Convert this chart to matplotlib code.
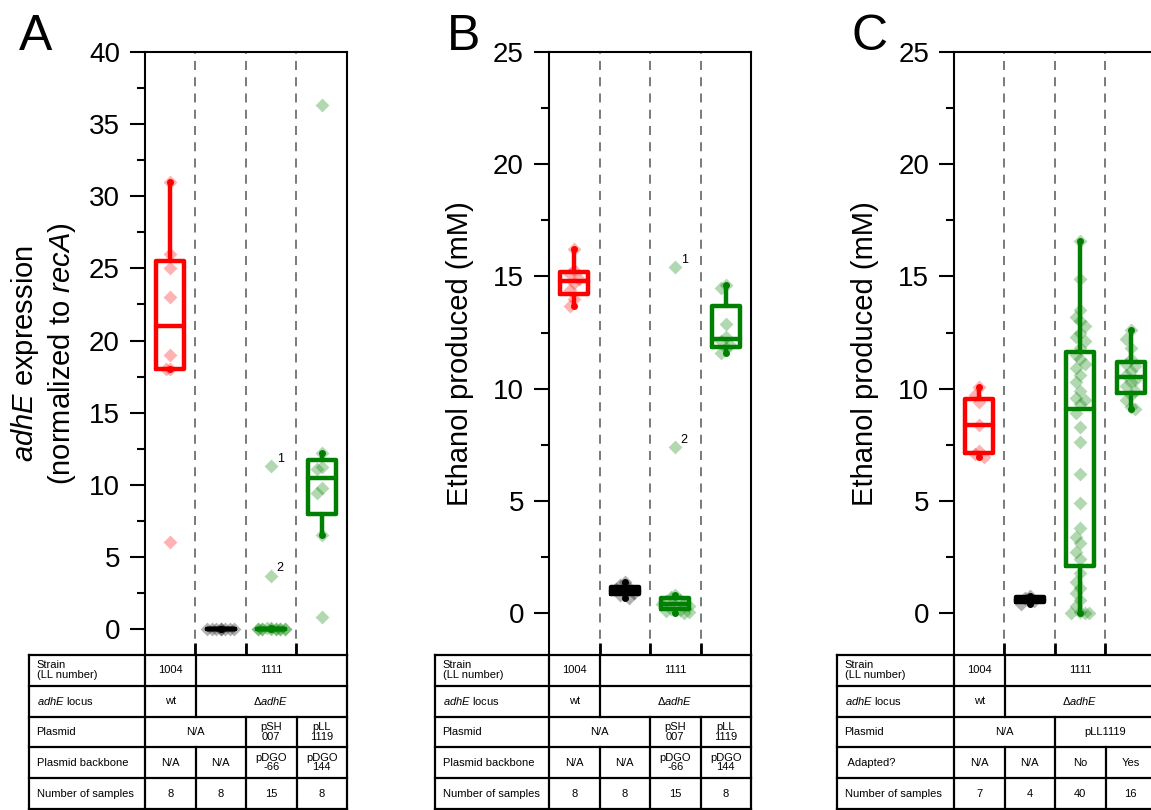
import numpy as np
import matplotlib
matplotlib.use("Agg")
import matplotlib.pyplot as plt
from matplotlib.ticker import MultipleLocator

plt.rcParams['font.family'] = ['Liberation Sans', 'DejaVu Sans']
plt.rcParams['mathtext.fontset'] = 'custom'
plt.rcParams['mathtext.rm'] = 'Liberation Sans'
plt.rcParams['mathtext.it'] = 'Liberation Sans:italic'

# ---- data ----
# Panel A: adhE expression (normalized to recA)
a_wt = [31, 26, 25, 23, 19, 18, 18, 6]
a_del = [0.03, 0.02, 0.01, 0.0, 0.0, 0.01, 0.02, 0.0]
a_psh007 = [11.3, 3.7, 0.05, 0.04, 0.03, 0.02, 0.02, 0.01, 0.01, 0.0, 0.0, 0.0, 0.01, 0.02, 0.03]
a_pll1119 = [36.3, 12.2, 11.2, 11.1, 9.8, 9.4, 6.5, 0.8]

# Panel B: ethanol produced (mM)
b_wt = [16.2, 15.3, 15.1, 14.9, 14.7, 14.4, 14.0, 13.7]
b_del = [1.4, 1.25, 1.1, 1.05, 0.95, 0.9, 0.8, 0.65]
b_psh007 = [15.4, 7.4, 0.8, 0.7, 0.6, 0.55, 0.45, 0.4, 0.35, 0.3, 0.2, 0.15, 0.1, 0.05, 0.0]
b_pll1119 = [14.6, 14.5, 12.9, 12.3, 12.1, 11.95, 11.8, 11.6]

# Panel C: ethanol produced (mM), adapted vs not
c_wt = [10.05, 9.7, 9.4, 8.4, 7.2, 7.1, 6.95]
c_del = [0.75, 0.65, 0.55, 0.4]
c_noadapt = [16.6, 14.9, 13.5, 13.2, 13.0, 12.8, 12.5, 12.3, 12.1, 11.8,
             11.5, 11.3, 11.1, 10.9, 10.6, 10.3, 9.9, 9.6, 9.5, 9.3,
             8.9, 8.3, 7.6, 6.2, 4.9, 3.8, 3.4, 3.1, 2.7, 2.4,
             1.8, 1.4, 1.1, 0.9, 0.6, 0.3, 0.05, 0.0, 0.0, 0.0]
c_adapt = [12.6, 12.2, 11.8, 11.3, 11.1, 11.0, 10.8, 10.6,
           10.4, 10.3, 10.1, 9.9, 9.7, 9.5, 9.2, 9.1]

# table contents: (first column, last column, text) for each row
row_labels_ab = ['Strain\n(LL number)', '$\\it{adhE}$ locus', 'Plasmid',
                 'Plasmid backbone', 'Number of samples']
row_labels_c = ['Strain\n(LL number)', '$\\it{adhE}$ locus', 'Plasmid',
                ' Adapted?', 'Number of samples']
strain_row = [(1, 1, '1004'), (2, 4, '1111')]
locus_row = [(1, 1, 'wt'), (2, 4, '\u0394$\\it{adhE}$')]
plasmid_row_ab = [(1, 2, 'N/A'), (3, 3, 'pSH\n007'), (4, 4, 'pLL\n1119')]
backbone_row = [(1, 1, 'N/A'), (2, 2, 'N/A'), (3, 3, 'pDGO\n-66'), (4, 4, 'pDGO\n144')]
plasmid_row_c = [(1, 2, 'N/A'), (3, 4, 'pLL1119')]
adapted_row = [(1, 1, 'N/A'), (2, 2, 'N/A'), (3, 3, 'No'), (4, 4, 'Yes')]

colors = ['#ff0000', '#000000', '#008000', '#008000']

# ---- layout (figure pixels) ----
W, H = 1151, 810
PLOT_TOP, PLOT_BOT, TABLE_BOT = 52, 655, 809
PLOT_W = 202


def fx(px):
    return px / W


def fy(py):
    return 1 - py / H


def tukey_stats(vals):
    v = np.sort(np.asarray(vals, float))
    n = len(v)
    half = (n + 1) // 2
    q1 = np.median(v[:half])
    q3 = np.median(v[n - half:])
    iqr = q3 - q1
    lo = v[v >= q1 - 1.5 * iqr].min()
    hi = v[v <= q3 + 1.5 * iqr].max()
    return dict(med=np.median(v), q1=q1, q3=q3, whislo=lo, whishi=hi, fliers=[])


def swarm(vals, ytol, step=0.09, max_off=0.27):
    cands = [0.0]
    k = 1
    while k * step <= max_off + 1e-9:
        cands += [-k * step, k * step]
        k += 1
    placed, offs = [], []
    for i, v in enumerate(vals):
        chosen = None
        for c in cands:
            if all(abs(c - px) > step * 0.9 or abs(v - py) > ytol for px, py in placed):
                chosen = c
                break
        if chosen is None:
            chosen = cands[i % len(cands)]
        placed.append((chosen, v))
        offs.append(chosen)
    return offs


def draw_panel(letter, left, tleft, groups, ylim, ylabel, labelpad, notes, rows, labels):
    ax = fig.add_axes([fx(left), fy(PLOT_BOT), PLOT_W / W, (PLOT_BOT - PLOT_TOP) / H])
    ax.set_xlim(0.5, 4.5)
    ax.set_ylim(*ylim)
    ytol = (ylim[1] - ylim[0]) * 10 / (PLOT_BOT - PLOT_TOP)

    for i, (vals, c) in enumerate(zip(groups, colors), start=1):
        offs = swarm(vals, ytol)
        ax.scatter(i + np.array(offs), vals, marker='D', s=50, color=c,
                   alpha=0.3, linewidths=0, zorder=2)
        st = tukey_stats(vals)
        props = dict(color=c, lw=3.2, solid_joinstyle='round', solid_capstyle='round')
        ax.bxp([st], positions=[i], widths=0.55, showfliers=False, showcaps=False,
               boxprops=props, whiskerprops=props, medianprops=props,
               manage_ticks=False, zorder=3)
        ax.plot([i, i], [st['whislo'], st['whishi']], 'o', color=c, ms=4, zorder=4)
        if i == 3:
            for idx, txt in notes.items():
                ax.annotate(txt, (i + offs[idx], vals[idx]), xytext=(4, 3),
                            textcoords='offset points', fontsize=9)

    for b in (1.5, 2.5, 3.5):
        ax.axvline(b, color='#707070', lw=1.3, ls=(0, (5, 4)), zorder=1)

    for s in ('left', 'top', 'right'):
        ax.spines[s].set_linewidth(1.5)
    ax.spines['bottom'].set_visible(False)
    ax.yaxis.set_major_locator(MultipleLocator(5))
    ax.yaxis.set_minor_locator(MultipleLocator(2.5))
    ax.set_yticks([t for t in np.arange(0, ylim[1] + 0.1, 5)])
    ax.tick_params(axis='y', which='major', length=11, width=1.5, labelsize=20, pad=7)
    ax.tick_params(axis='y', which='minor', length=6, width=1.5)
    ax.set_xticks([1.5, 2.5, 3.5])
    ax.tick_params(axis='x', direction='in', length=9, width=2, labelbottom=False)
    ax.set_ylabel(ylabel, fontsize=21, labelpad=labelpad)

    fig.text(fx(tleft - 10 if letter == 'A' else left - 102), fy(50), letter,
             fontsize=36, va='baseline', ha='left')

    # table under the plot
    col_px = PLOT_W / 4
    x0 = 0.5 - (left - tleft) / col_px
    tax = fig.add_axes([fx(tleft), fy(TABLE_BOT), (left + PLOT_W - tleft) / W,
                        (TABLE_BOT - PLOT_BOT) / H])
    tax.set_xlim(x0, 4.5)
    tax.set_ylim(5, 0)
    tax.axis('off')
    lk = dict(color='black', lw=1.6, clip_on=False, solid_capstyle='projecting')
    for r in range(6):
        tax.plot([x0, 4.5], [r, r], **lk)
    for xb in (x0, 0.5, 4.5):
        tax.plot([xb, xb], [0, 5], **lk)
    counts = [(k, k, str(len(g))) for k, g in enumerate(groups, start=1)]
    for r, (lab, cells) in enumerate(zip(labels, rows + [counts])):
        tax.text(x0 + 0.15, r + 0.5, lab, fontsize=8, va='center', ha='left',
                 linespacing=1.0)
        for c0, c1, txt in cells:
            tax.text((c0 + c1) / 2, r + 0.5, txt, fontsize=8, va='center',
                     ha='center', linespacing=0.9)
            if c1 < 4:
                tax.plot([c1 + 0.5, c1 + 0.5], [r, r + 1], **lk)
    return ax


fig = plt.figure(figsize=(W / 100, H / 100), dpi=100)

draw_panel('A', 145, 29, [a_wt, a_del, a_psh007, a_pll1119], (-1.8, 40),
           '$\\it{adhE}$ expression\n(normalized to $\\it{recA}$)', 8,
           {0: '1', 1: '2'},
           [strain_row, locus_row, plasmid_row_ab, backbone_row], row_labels_ab)
draw_panel('B', 549, 435, [b_wt, b_del, b_psh007, b_pll1119], (-1.87, 25),
           'Ethanol produced (mM)', 14, {0: '1', 1: '2'},
           [strain_row, locus_row, plasmid_row_ab, backbone_row], row_labels_ab)
draw_panel('C', 954, 837, [c_wt, c_del, c_noadapt, c_adapt], (-1.87, 25),
           'Ethanol produced (mM)', 14, {},
           [strain_row, locus_row, plasmid_row_c, adapted_row], row_labels_c)

fig.savefig('out.png', dpi=100)
